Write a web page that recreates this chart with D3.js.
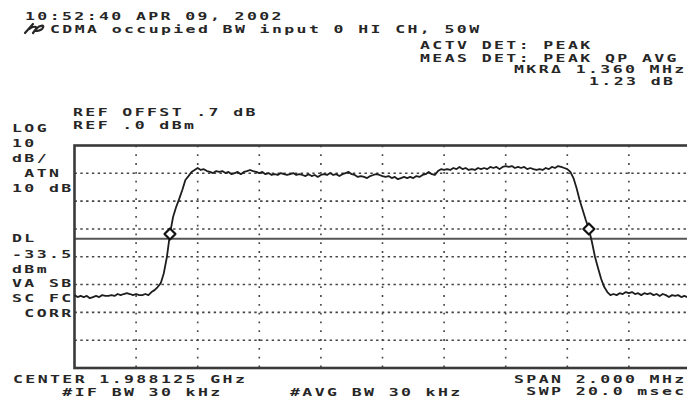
<!DOCTYPE html>
<html>
<head>
<meta charset="utf-8">
<script src="https://cdn.jsdelivr.net/npm/d3@7"></script>
<style>
  html, body { margin: 0; padding: 0; background: #fff; }
  svg { display: block; }
  text { font-family: "DejaVu Sans Mono", monospace; font-weight: bold; font-size: 11px; fill: #262626; }
</style>
</head>
<body>
<svg id="chart" width="687" height="402"></svg>
<script>
// ---------- data ----------
const spanStartMHz = -1.0;       // relative to center 1.988125 GHz
const spanStepMHz = 0.01;        // sweep bin width
const xTicks = [-1, -0.8, -0.6, -0.4, -0.2, 0, 0.2, 0.4, 0.6, 0.8, 1];
const yTicks = [0, -10, -20, -30, -40, -50, -60, -70, -80];
const displayLine = -33.5;
const markerFreqs = [-0.69, 0.67];
// trace amplitude in dBm, one value per sweep bin
const traceLevels = [
  -53.8,-54.5,-54.1,-54.5,-54.1,-54.9,-54.5,-54.1,-54.5,-53.8,
  -54.1,-54.1,-53.8,-54.1,-53.4,-53.8,-53.4,-53.1,-53.4,-53.8,
  -53.4,-53.8,-53.8,-53.4,-53.8,-52.7,-52.0,-50.9,-49.5,-45.9,
  -40.1,-31.8,-25.7,-22.1,-19.2,-16.0,-12.4,-11.0,-9.5,-8.8,
  -8.1,-8.8,-8.5,-9.2,-9.5,-9.9,-9.2,-9.5,-9.2,-9.9,
  -9.5,-10.3,-9.9,-9.5,-10.3,-9.5,-9.2,-8.8,-9.2,-9.5,
  -9.9,-9.5,-10.3,-9.9,-10.6,-10.3,-10.6,-9.9,-10.3,-10.6,
  -10.3,-9.9,-10.6,-10.3,-10.6,-11.0,-10.3,-11.0,-10.6,-11.3,
  -10.6,-10.3,-10.6,-9.9,-10.6,-10.3,-11.0,-10.3,-9.9,-9.5,
  -10.3,-10.6,-11.3,-11.0,-11.3,-11.7,-11.0,-10.6,-10.3,-10.6,
  -11.0,-11.3,-11.0,-11.7,-11.3,-12.1,-11.7,-11.3,-11.7,-11.3,
  -11.7,-11.0,-11.3,-10.6,-10.3,-9.5,-10.3,-10.6,-9.2,-8.5,
  -8.8,-8.5,-8.8,-8.1,-8.5,-7.7,-8.5,-8.1,-8.8,-8.5,
  -8.8,-8.1,-8.5,-8.1,-8.5,-7.7,-8.1,-7.7,-8.5,-7.7,
  -7.4,-7.7,-7.4,-8.1,-7.7,-8.1,-7.7,-8.5,-8.1,-8.5,
  -8.8,-8.5,-8.8,-8.1,-8.5,-7.7,-8.1,-7.4,-7.7,-8.1,
  -8.5,-9.5,-11.7,-15.3,-19.6,-23.2,-26.8,-30.0,-34.7,-40.1,
  -44.1,-48.0,-50.9,-52.7,-53.8,-53.4,-53.8,-53.1,-53.4,-52.7,
  -53.1,-52.7,-53.4,-53.1,-53.8,-53.1,-53.4,-53.1,-53.8,-53.4,
  -54.1,-53.4,-53.8,-54.5,-53.8,-54.1,-53.8,-54.5,-54.1,-54.5,
  -54.1
];
const headerLines = [
  ["10:52:40 APR 09, 2002", 25, 19.5],
  ["CDMA occupied BW input 0 HI CH, 50W", 50, 33],
  ["ACTV DET: PEAK", 420, 48.5],
  ["MEAS DET: PEAK QP AVG", 420, 61.5],
  ["MKR\u0394 1.360 MHz", 514, 73],
  ["1.23 dB", 589, 84.5],
  ["REF OFFST .7 dB", 73, 116],
  ["REF .0 dBm", 73, 129]
];
const sideLines = [
  ["LOG", 12, 132], ["10", 12, 147], ["dB/", 12, 162], [" ATN", 12, 177], ["10 dB", 12, 192],
  ["DL", 12, 242], ["-33.5", 12, 258], ["dBm", 12, 272.5], ["VA SB", 12, 287], ["SC FC", 12, 302], [" CORR", 12, 317]
];
const footerLines = [
  ["CENTER 1.988125 GHz", 13, 383],
  ["    #IF BW 30 kHz", 13, 395.5],
  ["#AVG BW 30 kHz", 290, 395.5],
  ["SPAN 2.000 MHz", 514, 382.5],
  [" SWP 20.0 msec", 514, 395]
];

// ---------- drawing ----------
const svg = d3.select("#chart");
const x = d3.scaleLinear().domain([-1, 1]).range([74.5, 690.5]);
const y = d3.scaleLinear().domain([0, -80]).range([145.5, 368]);

const traceData = traceLevels.map((v, i) => ({ f: spanStartMHz + i * spanStepMHz, v }));

// grid
const grid = svg.append("g");
grid.selectAll("line.v").data(xTicks.slice(1, -1)).join("line")
  .attr("x1", d => x(d)).attr("x2", d => x(d))
  .attr("y1", y(0)).attr("y2", y(-80))
  .attr("stroke", "#444").attr("stroke-width", 1.6)
  .attr("stroke-dasharray", "1.8,7");
grid.selectAll("line.h").data(yTicks.slice(1, -1)).join("line")
  .attr("x1", x(-1)).attr("x2", x(1))
  .attr("y1", d => y(d)).attr("y2", d => y(d))
  .attr("stroke", "#444").attr("stroke-width", 1.6)
  .attr("stroke-dasharray", "2.4,3.4");

// display line
svg.append("line")
  .attr("x1", x(-1)).attr("x2", x(1))
  .attr("y1", y(displayLine)).attr("y2", y(displayLine))
  .attr("stroke", "#555").attr("stroke-width", 2);

// frame
svg.append("rect")
  .attr("x", x(-1)).attr("y", y(0))
  .attr("width", x(1) - x(-1)).attr("height", y(-80) - y(0))
  .attr("fill", "none").attr("stroke", "#3a3a3a").attr("stroke-width", 2.6);

// trace
svg.append("path").datum(traceData)
  .attr("d", d3.line().x(d => x(d.f)).y(d => y(d.v)))
  .attr("fill", "none").attr("stroke", "#1e1e1e").attr("stroke-width", 1.8)
  .attr("stroke-linejoin", "round");

// markers
const markerData = markerFreqs.map(f => {
  const i = Math.round((f - spanStartMHz) / spanStepMHz);
  return { f, v: traceLevels[i] };
});
svg.selectAll("path.mk").data(markerData).join("path")
  .attr("transform", d => `translate(${x(d.f)},${y(d.v)})`)
  .attr("d", "M0,-5.5 L5.5,0 L0,5.5 L-5.5,0 Z")
  .attr("fill", "#fff").attr("stroke", "#111").attr("stroke-width", 2.2)
  .attr("stroke-linejoin", "round");

// text
const SX = 1.5, LS = 1.6;
function label(s, tx, ty) {
  svg.append("text")
    .attr("transform", `translate(${tx},${ty}) scale(${SX},1)`)
    .attr("letter-spacing", LS)
    .attr("xml:space", "preserve")
    .style("white-space", "pre")
    .text(s);
}
headerLines.concat(sideLines, footerLines).forEach(d => label(d[0], d[1], d[2]));

// instrument logo
svg.append("path")
  .attr("d", "M25,33 L33,24 M29,29 C33,26 38,26 36,29 L33,33 M36,29 C40,25 46,24 42,29 C40,31 37,31 35,31")
  .attr("fill", "none").attr("stroke", "#262626").attr("stroke-width", 2.2).attr("stroke-linecap", "round");
</script>
</body>
</html>
